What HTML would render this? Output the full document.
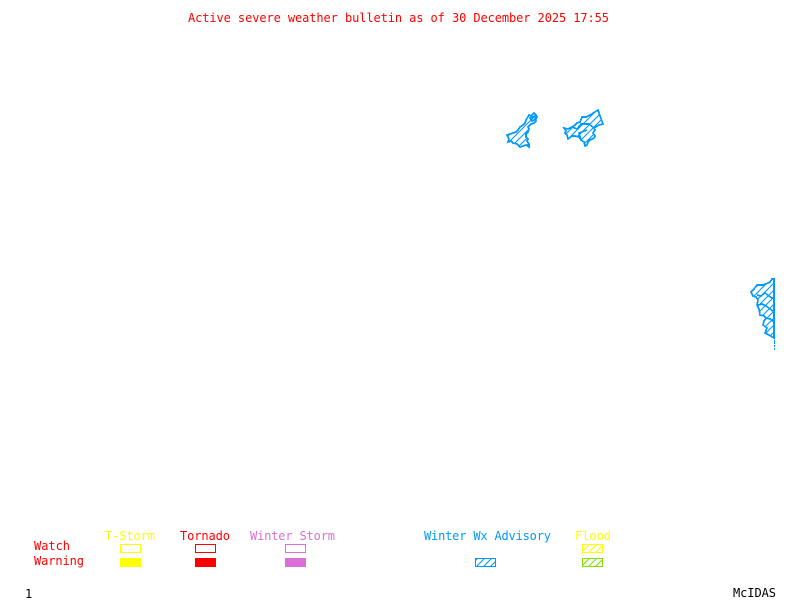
<!DOCTYPE html>
<html>
<head>
<meta charset="utf-8">
<style>
html,body{margin:0;padding:0;background:#fff}
svg{display:block}
text{font-family:"DejaVu Sans Mono","Liberation Mono",monospace;font-size:12px}
.s{shape-rendering:crispEdges}
</style>
</head>
<body>
<svg width="800" height="600" viewBox="0 0 800 600" xmlns="http://www.w3.org/2000/svg">
<defs>
<pattern id="hb" width="7" height="7" patternUnits="userSpaceOnUse">
<path d="M-2 2L2 -2M0 7L7 0M5 9L9 5" stroke="#0099ff" stroke-width="1.1" fill="none"/>
</pattern>
<pattern id="hy" width="7" height="7" patternUnits="userSpaceOnUse">
<path d="M-2 2L2 -2M0 7L7 0M5 9L9 5" stroke="#ffff00" stroke-width="1.1" fill="none"/>
</pattern>
<pattern id="hg" width="7" height="7" patternUnits="userSpaceOnUse">
<path d="M-2 2L2 -2M0 7L7 0M5 9L9 5" stroke="#80e000" stroke-width="1.1" fill="none"/>
</pattern>
</defs>

<text x="188" y="22" fill="#ff0000" textLength="421" lengthAdjust="spacing">Active severe weather bulletin as of 30 December 2025 17:55</text>

<g class="s" fill="url(#hb)" stroke="#0099ff" stroke-width="1.6">
<path d="M529 115L531 116L534 113L536 115L537 117L535 119L536 121L534 123L531 124L528 127L529 129L528 132L526 134L526 137L528 139L527 141L529 144L529 147L526 145L523 146L520 147L517 144L513 143L511 141L508 142L509 139L507 135L510 134L513 133L516 132L518 130L520 127L523 125L525 123L526 120Z"/>
<path d="M530 118L535 116L536 119L532 121Z"/>
<path d="M564 128L568 129L572 127L575 125L577 123L580 122L582 117L586 117L590 115L598 110L600 116L603 124L599 125L594 128L595 130L593 133L595 136L594 138L590 140L588 142L587 145L585 146L584 142L581 140L579 137L575 136L572 136L568 139L567 135L565 133L566 131Z"/>
<path d="M572 127L577 129L581 124L586 124L589 124L594 128M581 140L579 133L587 130" fill="none"/>
<path d="M774 279L772 279L770 282L768 283L763 285L757 285L754 289L751 292L753 296L756 297L758 300L757 305L759 309L760 315L764 316L766 318L764 321L763 325L767 328L765 333L769 335L774 338Z"/>
<path d="M757 295L761 296L765 293L769 296L772 298L774 298M758 305L762 304L766 306L770 309L774 312M766 318L770 319L774 322" fill="none"/>
</g>
<path class="s" d="M774.5 340V344M774.5 345V347M774.5 348V350" stroke="#0099ff" stroke-width="1" fill="none"/>

<text x="105" y="540" fill="#ffff00" textLength="50">T-Storm</text>
<text x="180" y="540" fill="#ff0000" textLength="50">Tornado</text>
<text x="250" y="540" fill="#da70d6" textLength="85">Winter Storm</text>
<text x="424" y="540" fill="#0099ff" textLength="127">Winter Wx Advisory</text>
<text x="575" y="540" fill="#ffff00" textLength="36">Flood</text>
<text x="34" y="550" fill="#ff0000" textLength="36">Watch</text>
<text x="34" y="565" fill="#ff0000" textLength="50">Warning</text>

<g class="s" stroke-width="1">
<rect x="120.5" y="544.5" width="20" height="8" fill="none" stroke="#ffff00"/>
<rect x="195.5" y="544.5" width="20" height="8" fill="none" stroke="#ff0000"/>
<rect x="285.5" y="544.5" width="20" height="8" fill="none" stroke="#da70d6"/>
<rect x="120" y="558" width="21" height="9" fill="#ffff00"/>
<rect x="195" y="558" width="21" height="9" fill="#ff0000"/>
<rect x="285" y="558" width="21" height="9" fill="#da70d6"/>
<rect x="475.5" y="558.5" width="20" height="8" fill="url(#hb)" stroke="#0099ff"/>
<rect x="582.5" y="544.5" width="20" height="8" fill="url(#hy)" stroke="#ffff00"/>
<rect x="582.5" y="558.5" width="20" height="8" fill="url(#hg)" stroke="#80e000"/>
</g>

<text x="25" y="598" fill="#000000">1</text>
<text x="733" y="597" fill="#000000" textLength="43">McIDAS</text>
</svg>
</body>
</html>
